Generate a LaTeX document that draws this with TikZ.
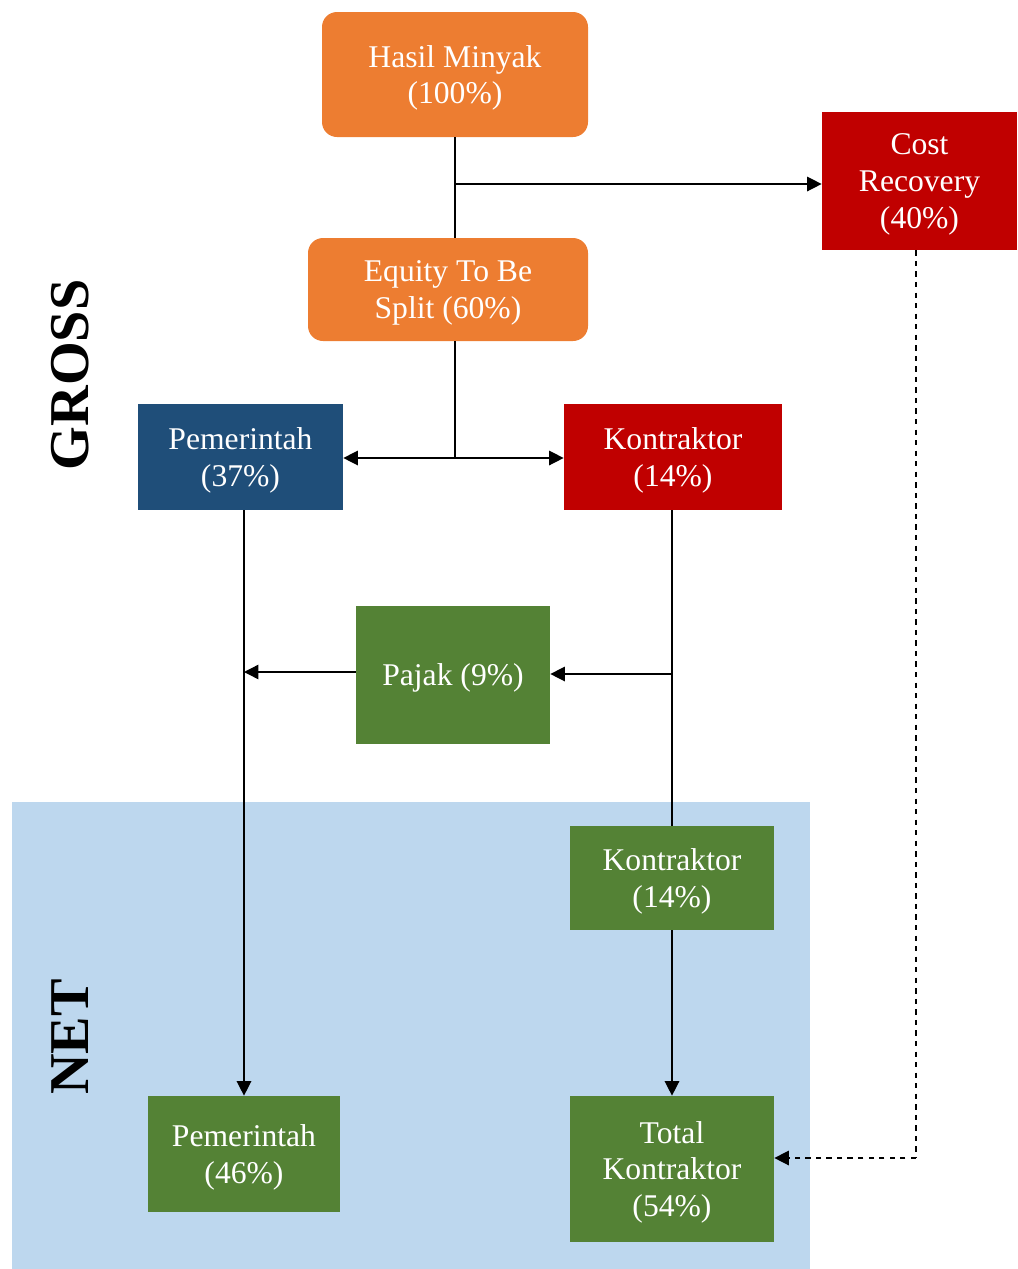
\documentclass[tikz,border=0pt]{standalone}
\usepackage{fontspec}
\setmainfont{Liberation Serif}
\usetikzlibrary{arrows.meta}
\definecolor{cOrange}{HTML}{ED7D31}
\definecolor{cRed}{HTML}{C00000}
\definecolor{cBlue}{HTML}{1F4E79}
\definecolor{cGreen}{HTML}{548235}
\definecolor{cBg}{HTML}{BDD7EE}
\tikzset{
  box/.style={inner sep=0pt, align=center, text=white, text depth=0pt, font=\fontsize{18}{21}\selectfont},
  obox/.style={box, fill=cOrange, rounded corners=0.3cm},
  rbox/.style={box, fill=cRed},
  bbox/.style={box, fill=cBlue},
  gbox/.style={box, fill=cGreen},
  conn/.style={line width=0.8pt, black},
  arr/.style={conn, -{Triangle[length=0.29cm, width=0.29cm]}},
  side/.style={font=\fontsize{32}{36}\selectfont\bfseries, rotate=90}
}
\begin{document}
\begin{tikzpicture}[x=0.02cm, y=-0.02cm]
\useasboundingbox (0,0) rectangle (1018,1269);
\fill[cBg] (12,802) rectangle (810,1269);

\node[obox, minimum width=266*0.02cm, minimum height=125*0.02cm] (hasil) at (455,74.5) {Hasil Minyak\\(100\%)};
\node[rbox, minimum width=195*0.02cm, minimum height=138*0.02cm] (cost) at (919.5,181) {Cost\\Recovery\\(40\%)};
\node[obox, minimum width=280*0.02cm, minimum height=103*0.02cm] (equity) at (448,289.5) {Equity To Be\\Split (60\%)};
\node[bbox, minimum width=205*0.02cm, minimum height=106*0.02cm] (pem1) at (240.5,457) {Pemerintah\\(37\%)};
\node[rbox, minimum width=218*0.02cm, minimum height=106*0.02cm] (kon1) at (673,457) {Kontraktor\\(14\%)};
\node[gbox, minimum width=194*0.02cm, minimum height=138*0.02cm] (pajak) at (453,675) {Pajak (9\%)};
\node[gbox, minimum width=204*0.02cm, minimum height=104*0.02cm] (kon2) at (672,878) {Kontraktor\\(14\%)};
\node[gbox, minimum width=192*0.02cm, minimum height=116*0.02cm] (pem2) at (244,1154) {Pemerintah\\(46\%)};
\node[gbox, minimum width=204*0.02cm, minimum height=146*0.02cm] (total) at (672,1169) {Total\\Kontraktor\\(54\%)};

\node[side] (gross) at (70,375) {GROSS};
\node[side] (net) at (70,1037) {NET};

\coordinate (j1) at (455,184);
\coordinate (j2) at (455,458);
\coordinate (j3) at (672,674);
\coordinate (j4) at (244,672);
\coordinate (j5) at (916,1158);

\draw[conn] (hasil.south) -- (hasil.south |- equity.north);
\draw[arr] (j1) -- (j1 -| cost.west);
\draw[conn] (equity.south -| j2) -- (j2);
\draw[arr] (j2) -- (j2 -| pem1.east);
\draw[arr] (j2) -- (j2 -| kon1.west);
\draw[arr] (pem2.north |- pem1.south) -- (pem2.north);
\draw[conn] (kon2.north |- kon1.south) -- (kon2.north);
\draw[arr] (j3) -- (j3 -| pajak.east);
\draw[arr] (j4 -| pajak.west) -- (j4);
\draw[arr] (kon2.south) -- (total.north);
\draw[conn, dashed] (cost.south -| j5) -- (j5);
\draw[arr, dashed] (j5) -- (j5 -| total.east);
\end{tikzpicture}
\end{document}
